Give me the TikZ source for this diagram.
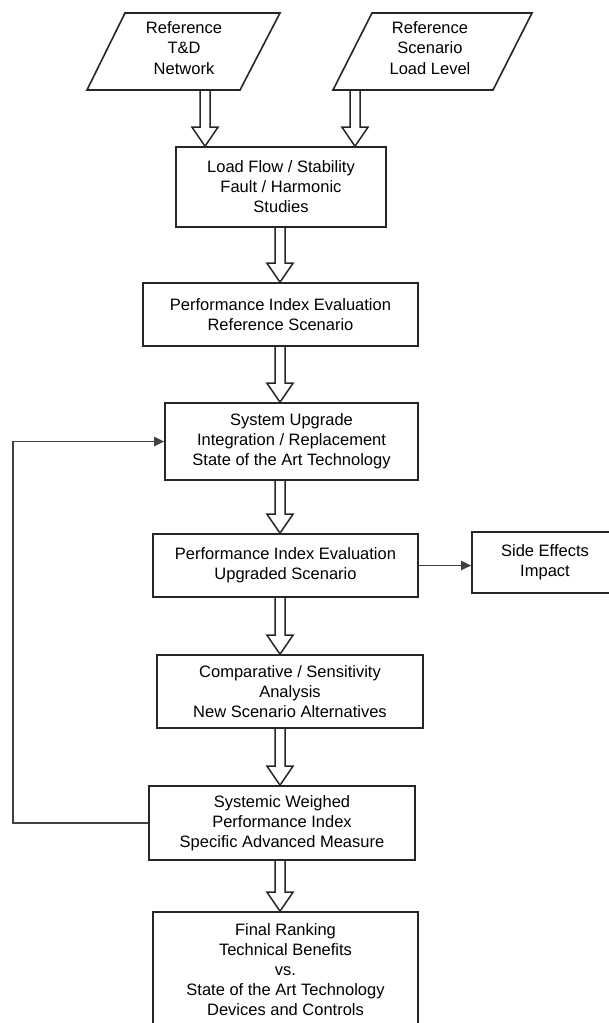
\documentclass[tikz,border=0pt]{standalone}
\usepackage{fontspec}
\setmainfont{Liberation Sans}
\usetikzlibrary{calc,arrows.meta}
\tikzset{
  boxline/.style={draw=black!85, line width=1.6pt, line join=miter},
  box/.style={boxline, rectangle, align=center, inner sep=0pt,
    font=\fontsize{16.5}{20}\selectfont},
  txt/.style={align=center, inner sep=0pt, font=\fontsize{16.5}{20.5}\selectfont},
  hollow/.style={draw=black!85, line width=1.5pt, line join=miter,
    to path={let \p1=(\tikztostart), \p2=(\tikztotarget) in
      (\x1-5pt,\y1) -- (\x1-5pt,\y2+19pt) -- (\x1-13pt,\y2+19pt) -- (\x1,\y2)
      -- (\x1+13pt,\y2+19pt) -- (\x1+5pt,\y2+19pt) -- (\x1+5pt,\y1)}},
  thinarrow/.style={draw=black!75, line width=1.8pt, -{Triangle[length=10pt,width=9pt]}}
}
\begin{document}
\begin{tikzpicture}[x=1pt,y=-1pt]
\useasboundingbox (0,0) rectangle (608,1023);

% input parallelograms
\draw[boxline] (87,90) -- (125,13) -- (280,13) -- (240,90) -- cycle;
\node[txt] (tnd) at (184,48) {Reference\\T\&D\\Network};
\draw[boxline] (333,90) -- (372,13) -- (532,13) -- (493,90) -- cycle;
\node[txt] (scn) at (430,48) {Reference\\Scenario\\Load Level};
\coordinate (tndout) at (205,90);
\coordinate (scnout) at (355,90);
\coordinate (spine) at (280,0);
\coordinate (loopx) at (13,0);

% boxes
\node[box, minimum width=210pt, minimum height=80pt] (lf) at (281,187)
  {Load Flow / Stability\\Fault / Harmonic\\Studies};
\node[box, minimum width=275pt, minimum height=63pt] (pref) at (280.5,314.5)
  {Performance Index Evaluation\\Reference Scenario};
\node[box, minimum width=253pt, minimum height=77pt] (sup) at (291.5,441.5)
  {System Upgrade\\Integration / Replacement\\State of the Art Technology};
\node[box, minimum width=265pt, minimum height=63pt] (pupg) at (285.5,565.5)
  {Performance Index Evaluation\\Upgraded Scenario};
\node[box, minimum width=146pt, minimum height=61pt] (side) at (545,562.5)
  {Side Effects\\Impact};
\node[box, minimum width=266pt, minimum height=73pt] (comp) at (290,691.5)
  {Comparative / Sensitivity\\Analysis\\New Scenario Alternatives};
\node[box, minimum width=266pt, minimum height=74pt] (sys) at (282,823)
  {Systemic Weighed\\Performance Index\\Specific Advanced Measure};
\node[box, minimum width=265pt, minimum height=116pt] (final) at (285.5,970)
  {Final Ranking\\Technical Benefits\\vs.\\State of the Art Technology\\Devices and Controls};

% hollow arrows
\draw[hollow] (tndout) to (tndout |- lf.north);
\draw[hollow] (scnout) to (scnout |- lf.north);
\draw[hollow] (lf.south -| spine) to (pref.north -| spine);
\draw[hollow] (pref.south -| spine) to (sup.north -| spine);
\draw[hollow] (sup.south -| spine) to (pupg.north -| spine);
\draw[hollow] (pupg.south -| spine) to (comp.north -| spine);
\draw[hollow] (comp.south -| spine) to (sys.north -| spine);
\draw[hollow] (sys.south -| spine) to (final.north -| spine);

% thin arrows
\draw[thinarrow] (pupg.east) -- (pupg.east -| side.west);
\draw[thinarrow] (sys.west) -- (sys.west -| loopx) |- (sup.west);
\end{tikzpicture}
\end{document}
